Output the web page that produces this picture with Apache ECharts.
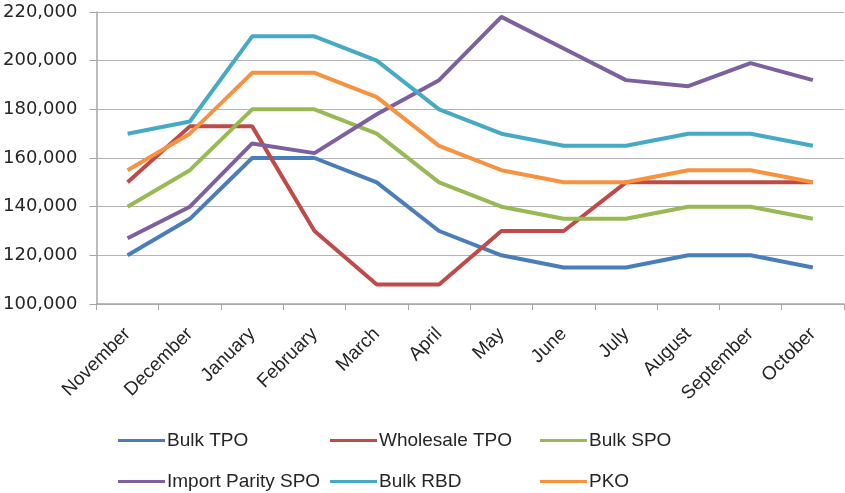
<!DOCTYPE html>
<html>
<head>
<meta charset="utf-8">
<script src="https://cdn.jsdelivr.net/npm/echarts@6/dist/echarts.min.js"></script>
<style>
  html, body { margin: 0; padding: 0; background: #fff; }
  #chart { width: 845px; height: 493px; }
</style>
</head>
<body>
<div id="chart"></div>
<script>
// months on the x axis
const months = ['November', 'December', 'January', 'February', 'March', 'April',
  'May', 'June', 'July', 'August', 'September', 'October'];

// prices
const bulkTPO = [120000, 135000, 160000, 160000, 150000, 130000, 120000, 115000, 115000, 120000, 120000, 115000];
const wholesaleTPO = [150000, 173000, 173000, 130000, 108000, 108000, 130000, 130000, 150000, 150000, 150000, 150000];
const bulkSPO = [140000, 155000, 180000, 180000, 170000, 150000, 140000, 135000, 135000, 140000, 140000, 135000];
const importParitySPO = [127000, 140000, 166000, 162000, 178000, 192000, 218000, 205000, 192000, 189500, 199000, 192000];
const bulkRBD = [170000, 175000, 210000, 210000, 200000, 180000, 170000, 165000, 165000, 170000, 170000, 165000];
const pko = [155000, 170000, 195000, 195000, 185000, 165000, 155000, 150000, 150000, 155000, 155000, 150000];

const seriesNames = ['Bulk TPO', 'Wholesale TPO', 'Bulk SPO', 'Import Parity SPO', 'Bulk RBD', 'PKO'];
const seriesData = [bulkTPO, wholesaleTPO, bulkSPO, importParitySPO, bulkRBD, pko];
const colors = ['#4a7ebb', '#be4b48', '#98b954', '#7d60a0', '#46aac5', '#f69240'];

const chart = echarts.init(document.getElementById('chart'));

// legend sits in a 3 x 2 block under the chart
const legendPos = [[118, 431], [330, 431], [540, 431], [118, 472], [330, 472], [540, 472]];
const legends = seriesNames.map((n, i) => ({
  data: [n],
  left: legendPos[i][0],
  top: legendPos[i][1],
  icon: 'rect',
  itemWidth: 47,
  itemHeight: 3,
  itemGap: 0,
  padding: 0,
  textStyle: { fontFamily: 'Liberation Sans', fontSize: 19, color: '#262626', padding: [0, 0, 0, -3] }
}));

chart.setOption({
  animation: false,
  color: colors,
  legend: legends,
  grid: { left: 96, right: 1, top: 12, bottom: 189 },
  xAxis: {
    type: 'category',
    data: months,
    boundaryGap: true,
    axisLine: { lineStyle: { color: '#a6a6a6', width: 1.5 } },
    axisTick: { show: true, length: 6, lineStyle: { color: '#a6a6a6' } },
    axisLabel: {
      rotate: 45,
      margin: 27,
      interval: 0,
      fontFamily: 'Liberation Sans',
      fontSize: 19,
      color: '#262626'
    }
  },
  yAxis: {
    type: 'value',
    min: 100000,
    max: 220000,
    interval: 20000,
    axisLine: { show: true, lineStyle: { color: '#a6a6a6', width: 1.5 } },
    axisTick: { show: true, length: 7, lineStyle: { color: '#a6a6a6' } },
    splitLine: { lineStyle: { color: '#b4b4b4', width: 1 } },
    axisLabel: {
      margin: 19,
      fontFamily: 'DejaVu Sans',
      fontSize: 18,
      color: '#262626',
      formatter: v => v.toLocaleString('en-US')
    }
  },
  series: seriesNames.map((n, i) => ({
    name: n,
    type: 'line',
    data: seriesData[i],
    symbol: 'none',
    lineStyle: { width: 4 }
  }))
});
</script>
</body>
</html>
